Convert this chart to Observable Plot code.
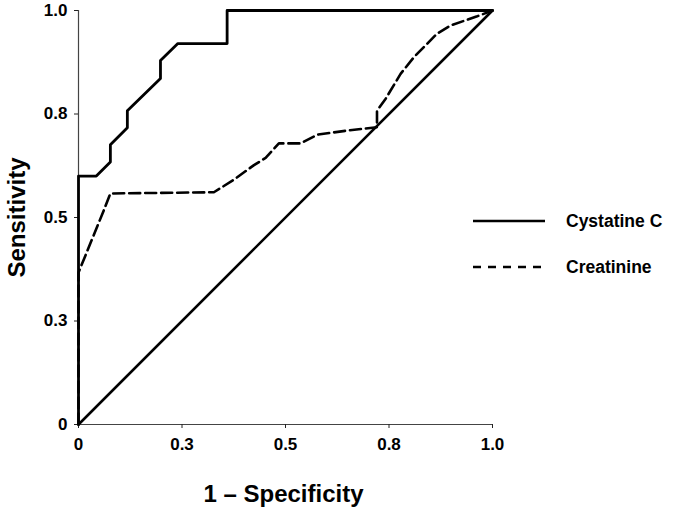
<!DOCTYPE html>
<html>
<head>
<meta charset="utf-8">
<script src="https://cdn.jsdelivr.net/npm/d3@7"></script>
<script src="https://cdn.jsdelivr.net/npm/@observablehq/plot@0.6"></script>
<style>
  html, body { margin: 0; padding: 0; background: #fff; }
  #chart { width: 685px; height: 512px; }
</style>
</head>
<body>
<div id="chart"></div>
<script>
// ---- data ----
const seriesNames = ["Cystatine C", "Creatinine"];
const cystatinFPR = [0, 0, 0.043, 0.077, 0.077, 0.118, 0.118, 0.198, 0.198, 0.240, 0.359, 0.359, 1.0];
const cystatinTPR = [0, 0.600, 0.600, 0.634, 0.676, 0.717, 0.758, 0.836, 0.879, 0.920, 0.920, 1.0, 1.0];
const creatFPR = [0, 0, 0.061, 0.077, 0.327, 0.375, 0.423, 0.452, 0.484, 0.536, 0.577, 0.649, 0.721, 0.721, 0.742, 0.778, 0.810, 0.866, 0.899, 0.963, 1.0];
const creatTPR = [0, 0.367, 0.517, 0.558, 0.561, 0.591, 0.626, 0.644, 0.679, 0.679, 0.700, 0.710, 0.718, 0.758, 0.787, 0.847, 0.887, 0.944, 0.964, 0.986, 1.0];
const refFPR = [0, 1];
const refTPR = [0, 1];
const tickValues = [0, 0.25, 0.5, 0.75, 1];
const tickLabels = ["0", "0.3", "0.5", "0.8", "1.0"];
const xTitle = "1 \u2013 Specificity";
const yTitle = "Sensitivity";

const cyst = cystatinFPR.map((x, i) => ({x, y: cystatinTPR[i]}));
const creat = creatFPR.map((x, i) => ({x, y: creatTPR[i]}));
const ref = refFPR.map((x, i) => ({x, y: refTPR[i]}));
const fmt = d => tickLabels[tickValues.indexOf(d)];
const font = "'Liberation Sans', Arial, Helvetica, sans-serif";

const plot = Plot.plot({
  width: 685,
  height: 512,
  marginLeft: 78,
  marginRight: 193,
  marginTop: 10,
  marginBottom: 88,
  style: {fontFamily: font, fontSize: "17px", fontWeight: "bold", color: "#000", background: "#fff"},
  x: {domain: [0, 1], label: null},
  y: {domain: [0, 1], label: null},
  marks: [
    Plot.ruleY([0], {stroke: "#444", strokeWidth: 1.2}),
    Plot.ruleX([0], {stroke: "#444", strokeWidth: 1.2}),
    Plot.axisX({ticks: tickValues, tickFormat: fmt, tickSize: 4, tickPadding: 9, stroke: "#222", fill: "#000", fontSize: 17, fontWeight: "bold"}),
    Plot.axisY({ticks: tickValues, tickFormat: fmt, tickSize: 4, tickPadding: 7, stroke: "#222", fill: "#000", fontSize: 17, fontWeight: "bold"}),
    Plot.line(ref, {x: "x", y: "y", stroke: "#000", strokeWidth: 2.6}),
    Plot.line(creat, {x: "x", y: "y", stroke: "#000", strokeWidth: 2.6, strokeDasharray: "11,5"}),
    Plot.line(cyst, {x: "x", y: "y", stroke: "#000", strokeWidth: 2.8}),
    Plot.text([xTitle], {frameAnchor: "bottom", dy: 70, fontSize: 24, fontWeight: "bold", lineAnchor: "middle", dx: -2}),
    Plot.text([yTitle], {frameAnchor: "left", dx: -61, rotate: -90, textAnchor: "middle", fontSize: 24, fontWeight: "bold", lineAnchor: "middle"})
  ]
});

// legend appended to the same SVG
const svg = d3.select(plot);
const legendY = [221, 267];
const dashes = [null, "8,7"];
seriesNames.forEach((name, i) => {
  svg.append("line")
    .attr("x1", 473).attr("x2", 545)
    .attr("y1", legendY[i]).attr("y2", legendY[i])
    .attr("stroke", "#000").attr("stroke-width", 2.6)
    .attr("stroke-dasharray", dashes[i]);
  svg.append("text")
    .attr("x", 566).attr("y", legendY[i] + 6)
    .attr("text-anchor", "start")
    .attr("font-family", font).attr("font-size", 17.5).attr("font-weight", "bold")
    .attr("fill", "#000")
    .text(name);
});

document.getElementById("chart").appendChild(plot);
</script>
</body>
</html>
